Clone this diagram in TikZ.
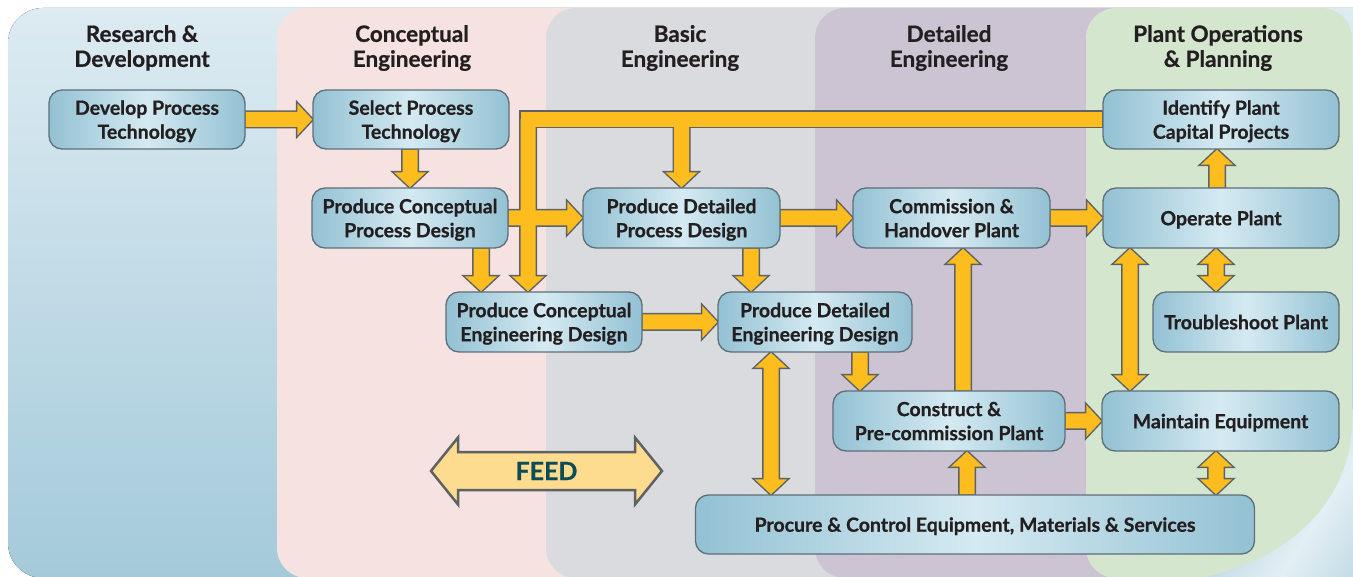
\documentclass[tikz,border=0pt]{standalone}
\usepackage{fontspec}
\setmainfont{Lato}[BoldFeatures={FakeBold=0.7}]
\usetikzlibrary{calc}
\definecolor{bgtop}{HTML}{DDEBF2}
\definecolor{bgbot}{HTML}{A4CADA}
\definecolor{pinkc}{HTML}{F5E2E1}
\definecolor{grayc}{HTML}{DADBDF}
\definecolor{purpc}{HTML}{CCC4D3}
\definecolor{greenc}{HTML}{D5E6CF}
\definecolor{boxedge}{HTML}{93C1D3}
\definecolor{boxmid}{HTML}{D5EAF2}
\definecolor{boxborder}{HTML}{5F6F78}
\definecolor{arrY}{HTML}{FDBD1F}
\definecolor{arrG}{HTML}{5E6264}
\definecolor{feedfill}{HTML}{FDDB8F}
\definecolor{feedtext}{HTML}{0C4C55}
\definecolor{txt}{HTML}{231F20}
\pgfdeclarelayer{panels}
\pgfdeclarelayer{arrowlayer}
\pgfsetlayers{panels,arrowlayer,main}
\newcommand\boxfont{\bfseries\fontsize{19.5}{24}\selectfont}
\newcommand\hdrfont{\bfseries\fontsize{22.5}{25}\selectfont}
\def\arrHW{7.5pt}
\def\arrHH{16pt}
\def\arrHL{15pt}
% point at distance #1 along, #2 across the connector
\def\PT#1#2{({\x1+(#1)*\n3-(#2)*\n4},{\y1+(#1)*\n4+(#2)*\n3})}
\newcommand\sarrow[3]{%
  \path[#1] let \p1=(#2), \p2=(#3), \n1={veclen(\x2-\x1,\y2-\y1)},
    \n3={(\x2-\x1)/\n1}, \n4={(\y2-\y1)/\n1}, \n5={\n1-\arrHL} in
    \PT{0pt}{-\arrHW} -- \PT{\n5}{-\arrHW} -- \PT{\n5}{-\arrHH} -- (\p2)
    -- \PT{\n5}{\arrHH} -- \PT{\n5}{\arrHW} -- \PT{0pt}{\arrHW} -- cycle;}
\newcommand\darrow[3]{%
  \path[#1] let \p1=(#2), \p2=(#3), \n1={veclen(\x2-\x1,\y2-\y1)},
    \n3={(\x2-\x1)/\n1}, \n4={(\y2-\y1)/\n1}, \n5={\n1-\arrHL} in
    (\p1) -- \PT{\arrHL}{-\arrHH} -- \PT{\arrHL}{-\arrHW} -- \PT{\n5}{-\arrHW}
    -- \PT{\n5}{-\arrHH} -- (\p2) -- \PT{\n5}{\arrHH} -- \PT{\n5}{\arrHW}
    -- \PT{\arrHL}{\arrHW} -- \PT{\arrHL}{\arrHH} -- cycle;}
\newcommand\sshaft[3]{%
  \path[#1] let \p1=(#2), \p2=(#3), \n1={veclen(\x2-\x1,\y2-\y1)},
    \n3={(\x2-\x1)/\n1}, \n4={(\y2-\y1)/\n1} in
    \PT{0pt}{-\arrHW} -- \PT{\n1}{-\arrHW} -- \PT{\n1}{\arrHW} -- \PT{0pt}{\arrHW} -- cycle;}
\newcommand\arrowlist[1]{%
  \sarrow{#1}{n1.east}{n2.west}
  \sarrow{#1}{n3.north |- n2.south}{n3.north}
  \sarrow{#1}{n3.east}{n4.west}
  \sarrow{#1}{481,0 |- n3.south}{481,0 |- n9.north}
  \sarrow{#1}{751,0 |- n4.south}{751,0 |- n10.north}
  \sarrow{#1}{n9.east}{n9.east -| n10.west}
  \sarrow{#1}{n4.east}{n5.west}
  \sarrow{#1}{n5.east}{n6.west}
  \sarrow{#1}{1217,0 |- n6.north}{1217,0 |- n7.south}
  \darrow{#1}{1216,0 |- n6.south}{1216,0 |- n8.north}
  \darrow{#1}{1130,0 |- n6.south}{1130,0 |- n12.north}
  \sarrow{#1}{963,0 |- n11.north}{963,0 |- n5.south}
  \sarrow{#1}{860,0 |- n10.south}{860,0 |- n11.north}
  \darrow{#1}{771,0 |- n10.south}{771,0 |- n13.north}
  \sarrow{#1}{967,0 |- n13.north}{967,0 |- n11.south}
  \sarrow{#1}{n11.east}{n11.east -| n12.west}
  \darrow{#1}{1216,0 |- n12.south}{1216,0 |- n13.north}
  \sshaft{#1}{n7.west}{520.5,0 |- n7.west}
  \sarrow{#1}{528,0 |- n7.west}{528,0 |- n9.north}
  \sarrow{#1}{681.5,0 |- n7.west}{681.5,0 |- n4.north}
}
\tikzset{
  box/.style={rounded corners=13pt, draw=boxborder, line width=1.3pt,
    left color=boxedge, right color=boxedge, middle color=boxmid,
    align=center, text=txt, font=\boxfont, inner sep=0pt, minimum height=60pt,
    text depth=0pt},
  hdr/.style={align=center, text=txt, font=\hdrfont, inner sep=0pt, text depth=0pt},
  arrout/.style={draw=arrG, fill=arrG, line width=3pt, line join=miter},
  arrfill/.style={fill=arrY},
  feedsty/.style={draw=arrG, fill=feedfill, line width=2.5pt, line join=miter},
}
\begin{document}
\begin{tikzpicture}[x=1pt,y=-1pt]
\useasboundingbox (0,0) rectangle (1353,577);
% panels
\begin{pgfonlayer}{panels}
\fill[top color=bgtop, bottom color=bgbot] (1353,578) -- (1353,8) [rounded corners=35] -- (8,8) -- (8,578) [sharp corners] -- cycle;
\begin{scope}
  \clip (1180,380) rectangle (1353,578);
  \shade[left color=bgbot, right color=bgbot, middle color=white!70!bgbot, shading angle=57]
    (1190,410) rectangle (1430,650);
\end{scope}
\fill[pinkc, rounded corners=30] (700,578) -- (277,578) -- (277,8) -- (900,8) -- (900,578) -- cycle;
\fill[grayc, rounded corners=30] (800,578) -- (546,578) -- (546,8) -- (1100,8) -- (1100,578) -- cycle;
\fill[purpc, rounded corners=30] (1000,578) -- (815,578) -- (815,8) -- (1190,8) -- (1190,578) -- cycle;
\fill[greenc, rounded corners=30] (1150,578) -- (1086,578) -- (1086,8) -- (1352,8) -- (1352,330) [sharp corners] -- (1352,420) .. controls (1352,500) and (1290,560) .. (1200,578) -- cycle;
\end{pgfonlayer}
% headers
\node[hdr] (h1) at (142,46) {Research \&\\Development};
\node[hdr] (h2) at (412,46) {Conceptual\\Engineering};
\node[hdr] (h3) at (680,46) {Basic\\Engineering};
\node[hdr] (h4) at (949,46) {Detailed\\Engineering};
\node[hdr] (h5) at (1218,46) {Plant Operations\\\& Planning};
% nodes
\node[box, minimum width=196pt, minimum height=59pt] (n1) at (147,119.5) {Develop Process\\Technology};
\node[box, minimum width=196pt, minimum height=59pt] (n2) at (411,119.5) {Select Process\\Technology};
\node[box, minimum width=196pt] (n3) at (410,218) {Produce Conceptual\\Process Design};
\node[box, minimum width=197pt] (n4) at (681.5,218) {Produce Detailed\\Process Design};
\node[box, minimum width=197pt] (n5) at (951.5,218) {Commission \&\\Handover Plant};
\node[box, minimum width=236pt] (n6) at (1221,218) {Operate Plant};
\node[box, minimum width=236pt, minimum height=59pt] (n7) at (1221,119.5) {Identify Plant\\Capital Projects};
\node[box, minimum width=186pt] (n8) at (1246,322) {Troubleshoot Plant};
\node[box, minimum width=196pt] (n9) at (544,322) {Produce Conceptual\\Engineering Design};
\node[box, minimum width=194pt] (n10) at (815,322) {Produce Detailed\\Engineering Design};
\node[box, minimum width=232pt] (n11) at (949,421) {Construct \&\\Pre-commission Plant};
\node[box, minimum width=237pt] (n12) at (1220.5,421) {Maintain Equipment};
\node[box, minimum width=559pt, minimum height=59pt] (n13) at (975,524.5) {Procure \& Control Equipment, Materials \& Services};
% arrows: outline pass, then fill pass (merges crossings)
\begin{pgfonlayer}{arrowlayer}
\arrowlist{arrout}
\arrowlist{arrfill}
\end{pgfonlayer}
% FEED
\coordinate (feedL) at (431,471);
\coordinate (feedR) at (662,471);
{\def\arrHW{19pt}\def\arrHH{33.5pt}\def\arrHL{27pt}
 \darrow{feedsty}{feedL}{feedR}}
\node[text=feedtext, font=\bfseries\fontsize{25}{30}\selectfont, inner sep=0pt] (feed) at ($(feedL)!0.5!(feedR)$) {FEED};
\end{tikzpicture}
\end{document}
